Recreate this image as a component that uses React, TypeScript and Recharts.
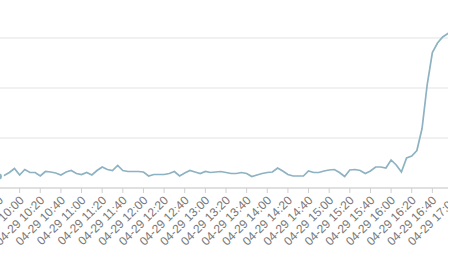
import React from "react";
import { LineChart, Line, CartesianGrid, XAxis, YAxis } from "recharts";

// 5-minute samples, 04-29 09:40 .. 17:00
const startMinute = 9 * 60 + 40;
const stepMinutes = 5;

const loadValues = [
  0.23, 0.25, 0.31, 0.39, 0.26, 0.37, 0.31, 0.31, 0.24, 0.33,
  0.32, 0.3, 0.26, 0.32, 0.35, 0.29, 0.27, 0.31, 0.26, 0.35,
  0.42, 0.37, 0.35, 0.45, 0.35, 0.33, 0.33, 0.33, 0.32, 0.24,
  0.27, 0.27, 0.27, 0.29, 0.33, 0.24, 0.3, 0.35, 0.32, 0.29,
  0.33, 0.31, 0.32, 0.33, 0.31, 0.29, 0.29, 0.31, 0.29, 0.23,
  0.26, 0.29, 0.31, 0.32, 0.4, 0.34, 0.27, 0.24, 0.24, 0.24,
  0.34, 0.31, 0.31, 0.34, 0.36, 0.37, 0.31, 0.23, 0.36, 0.37,
  0.35, 0.29, 0.34, 0.42, 0.42, 0.4, 0.56, 0.46, 0.32, 0.6,
  0.64, 0.75, 1.19, 2.07, 2.71, 2.9, 3.02, 3.09, 3.13,
];

const pad = (n: number) => String(n).padStart(2, "0");
const timeLabels = loadValues.map((_, i) => {
  const m = startMinute + i * stepMinutes;
  return `04-29 ${pad(Math.floor(m / 60))}:${pad(m % 60)}`;
});

const yTicks = [0, 1, 2, 3, 4];

const data = timeLabels.map((time, i) => ({ time, value: loadValues[i] }));

const RotatedTick = (props: any) => {
  const { x, y, payload } = props;
  return (
    <g transform={`translate(${x + 2},${y + 3})`}>
      <text
        x={0}
        y={0}
        dy="0.35em"
        textAnchor="end"
        transform="rotate(-45)"
        fill="#777"
        fontSize={12}
        fontFamily="'Liberation Sans', Arial, sans-serif"
      >
        {payload.value}
      </text>
    </g>
  );
};

const App: React.FC = () => {
  return (
    <div
      style={{
        position: "absolute",
        left: 0,
        top: 0,
        width: 465,
        height: 263,
        background: "#fff",
        overflow: "hidden",
      }}
    >
      <div
        style={{
          position: "absolute",
          left: 0,
          top: 0,
          width: 448,
          height: 263,
          overflow: "hidden",
        }}
      >
        <div style={{ position: "absolute", left: -0.6, top: -12.3 }}>
          <LineChart
            width={454}
            height={270}
            data={data}
            margin={{ top: 0, right: 0, bottom: 0, left: 0 }}
          >
            <CartesianGrid vertical={false} stroke="#e3e3e3" />
            <XAxis
              dataKey="time"
              interval={3}
              height={70}
              stroke="#cfcfcf"
              tickSize={5}
              tick={<RotatedTick />}
            />
            <YAxis hide domain={[0, 4]} ticks={yTicks} />
            <Line
              type="linear"
              dataKey="value"
              stroke="#8db2c2"
              strokeWidth={1.7}
              dot={false}
              isAnimationActive={false}
            />
          </LineChart>
        </div>
      </div>
    </div>
  );
};

export default App;
